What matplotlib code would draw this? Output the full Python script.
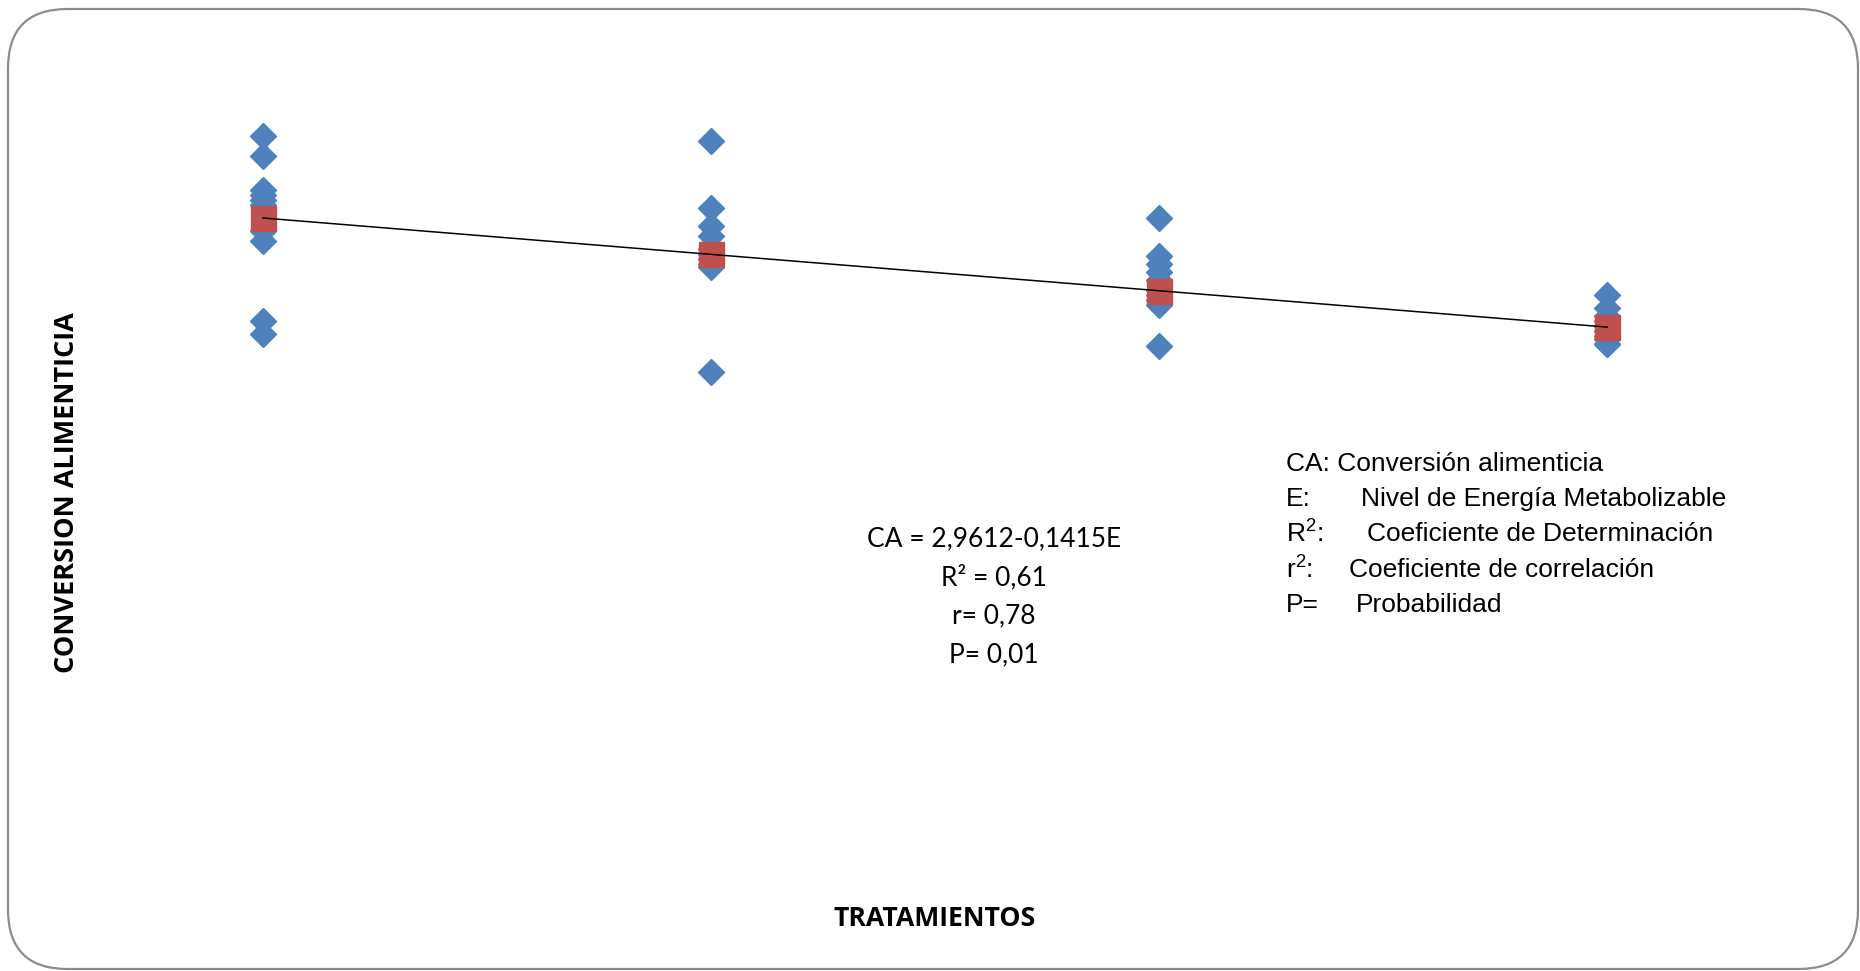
"""
Conversión alimenticia vs tratamientos - regresión lineal
"""
import numpy as np
import matplotlib
matplotlib.use('Agg')
import matplotlib.pyplot as plt
from matplotlib.patches import FancyBboxPatch

matplotlib.rcParams['mathtext.fontset'] = 'custom'
matplotlib.rcParams['mathtext.rm'] = 'Liberation Sans'

# Datos
tratamientos = [1, 2, 3, 4]
ca_t1 = [3.14, 3.06, 2.93, 2.91, 2.89, 2.87, 2.77, 2.73, 2.42, 2.37]
ca_t2 = [3.12, 2.86, 2.79, 2.75, 2.70, 2.68, 2.66, 2.64, 2.63, 2.22]
ca_t3 = [2.82, 2.67, 2.64, 2.61, 2.58, 2.54, 2.52, 2.50, 2.48, 2.32]
ca_t4 = [2.52, 2.47, 2.44, 2.42, 2.40, 2.38, 2.36, 2.35, 2.33, 2.33]
medias = [2.820, 2.678, 2.537, 2.395]

# Ecuación de regresión
intercepto = 2.9612
pendiente = -0.1415

BLUE = '#4F81BD'
RED = '#C0504D'

fig = plt.figure(figsize=(18.6, 9.71), dpi=100)

# marco redondeado
W, H = 1860, 971
frame = FancyBboxPatch((8 / W, 2 / H), 1850 / W, 960 / H,
                       boxstyle="round,pad=0,rounding_size=0.032",
                       transform=fig.transFigure, fill=False,
                       edgecolor='#8C8C8C', linewidth=1.6,
                       mutation_aspect=W / H)
fig.patches.append(frame)

ax = fig.add_axes([100 / W, 1 - 900 / H, 1680 / W, 840 / H])
ax.set_xlim(0.636, 4.386)
ax.set_ylim(0.166, 3.4345)
ax.axis('off')

for x, vals in zip(tratamientos, [ca_t1, ca_t2, ca_t3, ca_t4]):
    ax.plot([x] * len(vals), vals, linestyle='none', marker='D',
            markersize=13, color=BLUE, zorder=2)

ax.plot(tratamientos, medias, linestyle='none', marker='s',
        markersize=18, color=RED, zorder=3)

xs = np.array([tratamientos[0], tratamientos[-1]])
ax.plot(xs, intercepto + pendiente * xs, color='black', linewidth=1.1, zorder=4)

# etiquetas de ejes
fig.text(67 / W, 1 - 493 / H, 'CONVERSION ALIMENTICIA', rotation=90,
         ha='center', va='center', fontsize=19.5, fontweight='bold', family='Open Sans')
fig.text(935 / W, 1 - 919 / H, 'TRATAMIENTOS', ha='center', va='center',
         fontsize=19.2, fontweight='bold', family='Open Sans')

# ecuación
eq_lines = ['CA = 2,9612-0,1415E', 'R² = 0,61', 'r= 0,78', 'P= 0,01']
for i, line in enumerate(eq_lines):
    fig.text(994 / W, 1 - (538.5 + i * 38.7) / H, line, ha='center', va='center',
             fontsize=19, family='Lato')

# leyenda de abreviaturas
leyenda = [
    ('CA: Conversión alimenticia', '', 0),
    ('E:', 'Nivel de Energía Metabolizable', 1361),
    (r'$\mathregular{R^2}$:', 'Coeficiente de Determinación', 1367),
    (r'$\mathregular{r^2}$:', 'Coeficiente de correlación', 1349),
    ('P=', 'Probabilidad', 1356),
]
for i, (abrev, desc, xd) in enumerate(leyenda):
    y = 1 - (463.5 + i * 35.4) / H
    fig.text(1286 / W, y, abrev, ha='left', va='center', fontsize=19,
             family='Liberation Sans')
    if desc:
        fig.text(xd / W, y, desc, ha='left', va='center', fontsize=19,
                 family='Liberation Sans')

plt.savefig('out.png', dpi=100)
plt.close()
